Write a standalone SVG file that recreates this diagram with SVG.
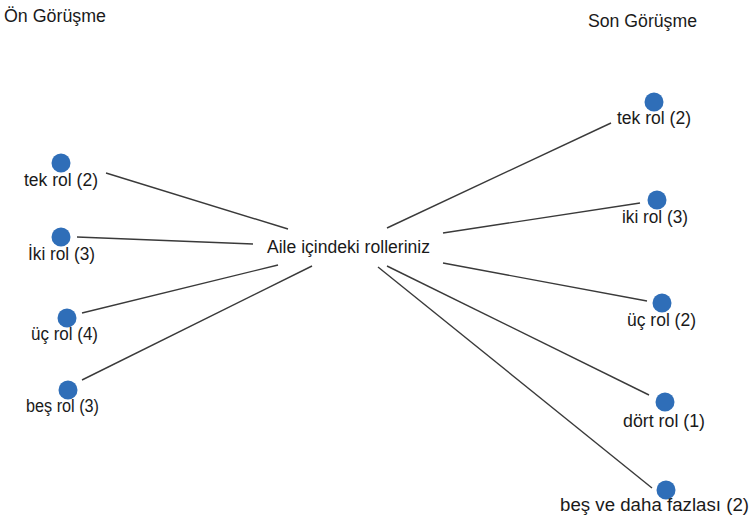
<svg xmlns="http://www.w3.org/2000/svg" width="755" height="519" viewBox="0 0 755 519">
<style>
text{font-family:"Liberation Sans",Arial,sans-serif;font-size:17.5px;fill:#1a1a1a}
.dot{fill:#2f6eb8}
.edge{stroke:#3a3a3a;stroke-width:1.4;fill:none}
</style>
<rect width="755" height="519" fill="#fff"/>
<text x="4" y="22" textLength="102" lengthAdjust="spacingAndGlyphs">Ön Görüşme</text>
<text x="588" y="27" textLength="109" lengthAdjust="spacingAndGlyphs">Son Görüşme</text>
<g id="connectors">
<line class="edge" x1="106" y1="173" x2="288" y2="229"/>
<line class="edge" x1="77" y1="237" x2="253" y2="244"/>
<line class="edge" x1="82" y1="313" x2="278" y2="265"/>
<line class="edge" x1="82" y1="380" x2="312" y2="266"/>
<line class="edge" x1="387" y1="228" x2="611" y2="123"/>
<line class="edge" x1="443" y1="233" x2="640" y2="203"/>
<line class="edge" x1="443" y1="263" x2="647" y2="301"/>
<line class="edge" x1="387" y1="266" x2="649" y2="395"/>
<line class="edge" x1="378" y1="267" x2="652" y2="488"/>
</g>
<g id="center"><text x="267" y="253" textLength="163" lengthAdjust="spacingAndGlyphs">Aile içindeki rolleriniz</text></g>
<g id="on-tek"><circle class="dot" cx="61" cy="163" r="9.5"/><text x="24" y="186" textLength="74" lengthAdjust="spacingAndGlyphs">tek rol (2)</text></g>
<g id="on-iki"><circle class="dot" cx="61" cy="237" r="9.5"/><text x="28" y="260" textLength="67" lengthAdjust="spacingAndGlyphs">İki rol (3)</text></g>
<g id="on-uc"><circle class="dot" cx="67" cy="318" r="9.5"/><text x="31" y="340" textLength="67" lengthAdjust="spacingAndGlyphs">üç rol (4)</text></g>
<g id="on-bes"><circle class="dot" cx="68" cy="390" r="9.5"/><text x="26" y="412" textLength="73" lengthAdjust="spacingAndGlyphs">beş rol (3)</text></g>
<g id="son-tek"><circle class="dot" cx="654" cy="102" r="9.5"/><text x="617" y="124" textLength="74" lengthAdjust="spacingAndGlyphs">tek rol (2)</text></g>
<g id="son-iki"><circle class="dot" cx="657" cy="200" r="9.5"/><text x="622" y="223" textLength="66" lengthAdjust="spacingAndGlyphs">iki rol (3)</text></g>
<g id="son-uc"><circle class="dot" cx="662" cy="303" r="9.5"/><text x="627" y="326" textLength="69" lengthAdjust="spacingAndGlyphs">üç rol (2)</text></g>
<g id="son-dort"><circle class="dot" cx="665" cy="402" r="9.5"/><text x="623" y="427" textLength="82" lengthAdjust="spacingAndGlyphs">dört rol (1)</text></g>
<g id="son-bes"><circle class="dot" cx="666" cy="490" r="9.5"/><text x="560" y="511" textLength="189" lengthAdjust="spacingAndGlyphs">beş ve daha fazlası (2)</text></g>
</svg>
